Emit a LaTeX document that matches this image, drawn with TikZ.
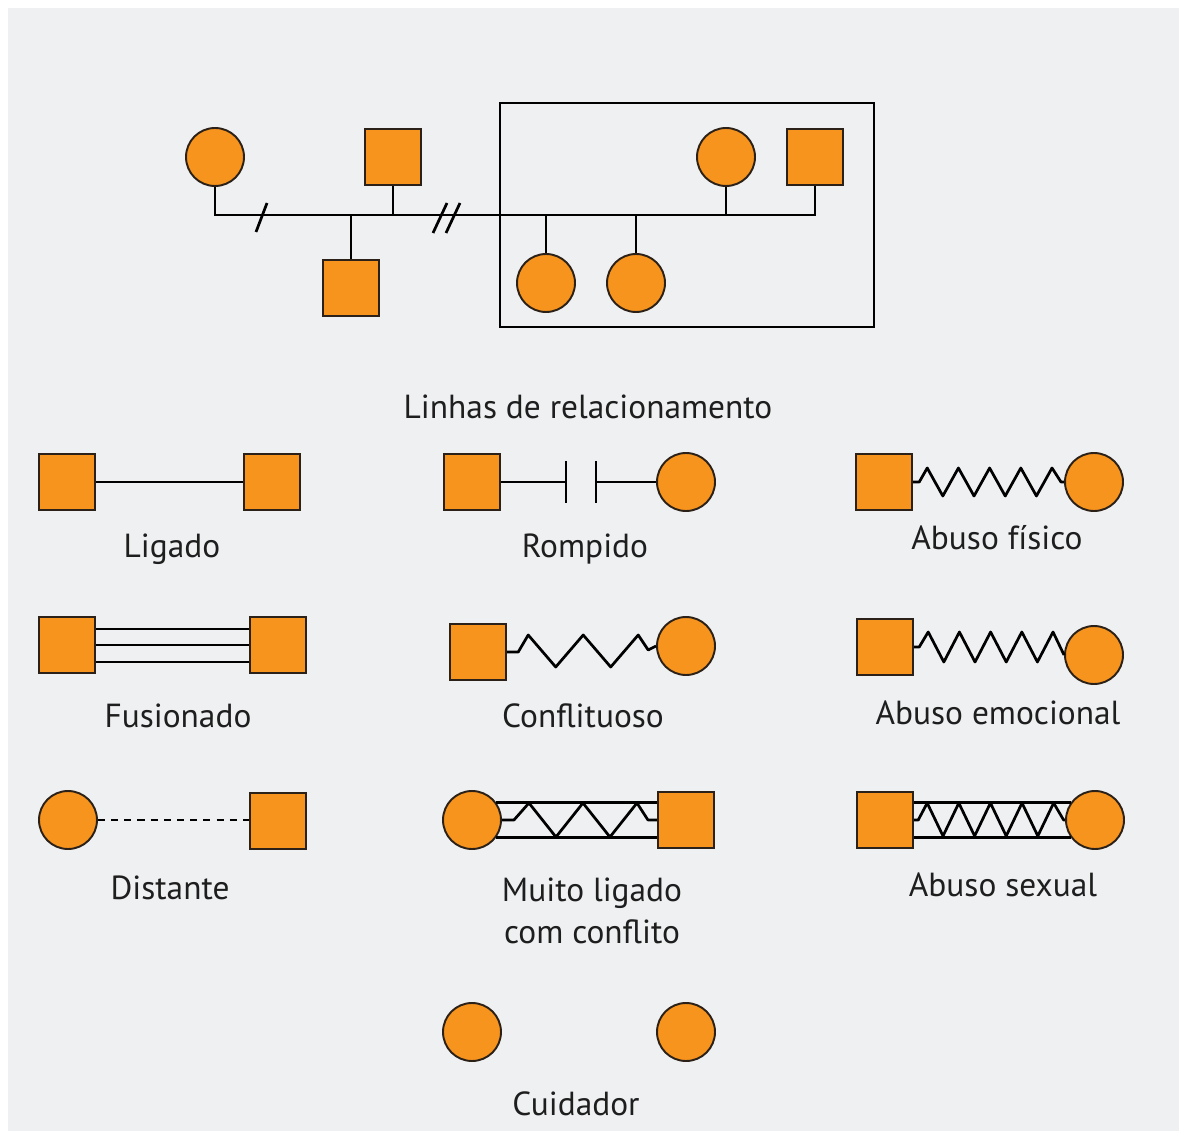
\documentclass[tikz,border=0pt]{standalone}
\usepackage{fontspec}
\setmainfont{PT Sans}
\definecolor{laranja}{HTML}{F7941D}
\definecolor{contorno}{HTML}{2B2118}
\definecolor{fundo}{HTML}{EFF0F2}
\definecolor{texto}{HTML}{1E1E1E}
\begin{document}
\begin{tikzpicture}[x=0.02cm,y=-0.02cm,line width=1.55pt,
			fem/.style={circle,draw=contorno,line width=1.1pt,fill=laranja,minimum size=1.16cm,inner sep=0},
			masc/.style={rectangle,draw=contorno,line width=1.1pt,fill=laranja,minimum size=1.13cm,inner sep=0},
			rotulo/.style={font=\fontsize{19}{23}\selectfont,text=texto,inner sep=0}]
			\fill[white] (0,0) rectangle (1179,1131);
			\fill[fundo] (8,8) rectangle (1179,1131);
			\useasboundingbox (0,0) rectangle (1179,1131);
			% genograma
			\node[fem] (g1) at (215,157) {};
			\node[masc] (g2) at (393,157) {};
			\node[masc] (g3) at (351,288) {};
			\node[fem] (g4) at (726,157) {};
			\node[masc] (g5) at (815,157) {};
			\node[fem] (g6) at (546,283) {};
			\node[fem] (g7) at (636,283) {};
			\node[draw,line width=1.5pt,minimum width=7.48cm,minimum height=4.48cm] (caixa) at (687,215) {};
			\coordinate (ln) at (0,215);
			\draw (g1.south) -- (g1 |- ln) -- (g5 |- ln) -- (g5.south);
			\draw (g2.south) -- (g2 |- ln);
			\draw (g4.south) -- (g4 |- ln);
			\draw (g3 |- ln) -- (g3.north);
			\draw (g6 |- ln) -- (g6.north);
			\draw (g7 |- ln) -- (g7.north);
			\coordinate (corte1) at (261,218);
			\coordinate (corte2) at (441,218);
			\draw (corte1) ++(-5,14) -- ++(11,-29);
			\draw (corte2) ++(-8,15) -- ++(14,-30);
			\draw (corte2) ++(5,15) -- ++(14,-30);
			\node[rotulo] (titulo) at (588,407) {Linhas de relacionamento};
			% ligado
			\node[masc] (l1) at (67,482) {};
			\node[masc] (l2) at (272,482) {};
			\draw (l1) -- (l2);
			\node[rotulo] (tl) at (172,549) {Ligado};
			% rompido
			\node[masc] (r1) at (472,482) {};
			\node[fem] (r2) at (686,482) {};
			\coordinate (r1t) at (566,482);
			\coordinate (r2t) at (596,482);
			\draw (r1.east) -- (r1t);
			\draw (r2t) -- (r2.west);
			\draw (r1t) ++(0,-21) -- ++(0,42);
			\draw (r2t) ++(0,-21) -- ++(0,42);
			\node[rotulo] (tr) at (585,549) {Rompido};
			% abuso fisico
			\node[masc] (f1) at (884,482) {};
			\node[fem] (f2) at (1094,482) {};
			\draw[line join=round] (f1.east) -- ++(6,0) -- ++(8,-14)
				foreach \k in {1,...,4} { -- ++(15.6,28) -- ++(15.6,-28)} -- ++(9,14) -- (f2.west);
			\node[rotulo] (tf) at (997,538) {Abuso físico};
			% fusionado
			\node[masc] (u1) at (67,645) {};
			\node[masc] (u2) at (278,645) {};
			\draw (u1) -- (u2);
			\draw (u1.east |- 0,629) -- (u2.west |- 0,629);
			\draw (u1.east |- 0,662) -- (u2.west |- 0,662);
			\node[rotulo] (tu) at (178,716) {Fusionado};
			% conflituoso
			\node[masc] (c1) at (478,652) {};
			\node[fem] (c2) at (686,646) {};
			\draw[line join=round] (c1.east) -- ++(11,0) -- ++(10,-17)
				foreach \k in {1,2} { -- ++(27.5,32) -- ++(27.5,-32)} -- ++(10,15) -- (c2.west);
			\node[rotulo] (tc) at (583,716) {Conflituoso};
			% abuso emocional
			\node[masc] (e1) at (885,647) {};
			\node[fem] (e2) at (1094,655) {};
			\draw[line join=round] (e1.east) -- ++(5,0) -- ++(9,-15)
				foreach \k in {1,...,4} { -- ++(15.6,30) -- ++(15.6,-30)} -- (e2.west);
			\node[rotulo] (te) at (998,713) {Abuso emocional};
			% distante
			\node[fem] (d1) at (68,820) {};
			\node[masc] (d2) at (278,821) {};
			\draw[dash pattern=on 4pt off 3.5pt] (d1.east) -- (d2.west |- d1.east);
			\node[rotulo] (td) at (170,888) {Distante};
			% muito ligado com conflito
			\node[fem] (m1) at (472,820) {};
			\node[masc] (m2) at (686,820) {};
			\draw (m1.36) -- (m1.36 -| m2.west);
			\draw (m1.-36) -- (m1.-36 -| m2.west);
			\draw[line join=round] (m1.east) -- ++(12,0) -- ++(15,-17)
				foreach \k in {1,2} { -- ++(27,34) -- ++(27,-34)} -- ++(11,17) -- (m2.west);
			\node[rotulo,align=center] (tm) at (592,911) {Muito ligado\\[1pt]com conflito};
			% abuso sexual
			\node[masc] (s1) at (885,820) {};
			\node[fem] (s2) at (1095,820) {};
			\draw (s2.144) -- (s2.144 -| s1.east);
			\draw (s2.-144) -- (s2.-144 -| s1.east);
			\draw[line join=round] (s1.east) -- ++(4,0) -- ++(9,-17)
				foreach \k in {1,...,4} { -- ++(15.8,33) -- ++(15.8,-33)} -- ++(10,17) -- (s2.west);
			\node[rotulo] (ts) at (1003,885) {Abuso sexual};
			% cuidador
			\node[fem] (k1) at (472,1032) {};
			\node[fem] (k2) at (686,1032) {};
			\node[rotulo] (tk) at (576,1104) {Cuidador};
		\end{tikzpicture}
\end{document}
